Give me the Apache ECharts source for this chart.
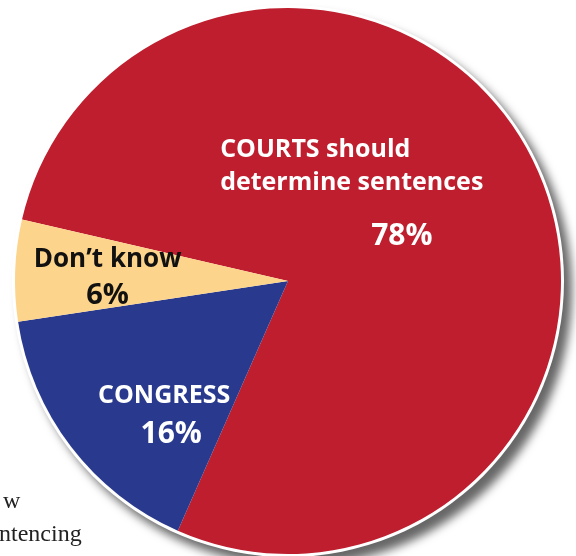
<!DOCTYPE html>
<html>
<head>
<meta charset="utf-8">
<script src="https://cdn.jsdelivr.net/npm/echarts@6/dist/echarts.min.js"></script>
<style>
  html, body { margin: 0; padding: 0; background: #fff; }
  #chart { width: 576px; height: 556px; }
</style>
</head>
<body>
<div id="chart"></div>
<script>
// who should determine sentences
const categories = ['COURTS should determine sentences', 'CONGRESS', 'Don\u2019t know'];
const shares = [78, 16, 6];
const sliceColors = ['#be1e2d', '#293a8e', '#fdd48b'];

// label nudges from the default inside position
const labelShift = [
  { dx: -61, dy: -15 },
  { dx: -13, dy: 52 },
  { dx: -41, dy: 2 }
];

const chart = echarts.init(document.getElementById('chart'));

const center = [288, 281];
const radius = 273;
const font = '"Open Sans", "Noto Sans", sans-serif';

const fmt = (p) => {
  if (p.dataIndex === 0) {
    return '{a|COURTS should}\n{a|determine sentences}\n{p|' + p.value + '%}';
  }
  if (p.dataIndex === 1) {
    return '{a|CONGRESS}\n{q|' + p.value + '%}';
  }
  return '{d|Don\u2019t know}\n{e|' + p.value + '%}';
};

const option = {
  backgroundColor: '#fff',
  animation: false,
  graphic: [
    {
      type: 'text', left: 3, top: 490,
      style: { text: 'w', font: '24px "Liberation Serif", serif', fill: '#222' }
    },
    {
      type: 'text', left: -1, top: 523,
      style: { text: 'ntencing', font: '24px "Liberation Serif", serif', fill: '#222' }
    }
  ],
  series: [
    {
      // white rim + drop shadow behind the pie
      type: 'pie',
      center: center,
      radius: radius + 3,
      silent: true,
      label: { show: false },
      labelLine: { show: false },
      itemStyle: {
        color: '#fff',
        shadowBlur: 10,
        shadowOffsetX: 8,
        shadowOffsetY: 9,
        shadowColor: 'rgba(0,0,0,0.6)'
      },
      data: [1],
      z: 1
    },
    {
      type: 'pie',
      center: center,
      radius: radius,
      startAngle: 167,
      clockwise: true,
      avoidLabelOverlap: false,
      z: 2,
      data: categories.map((c, i) => ({
        name: c,
        value: shares[i],
        itemStyle: { color: sliceColors[i] }
      })),
      itemStyle: { borderWidth: 0 },
      labelLine: { show: false },
      label: {
        show: true,
        position: 'inside',
        formatter: fmt,
        fontFamily: font,
        rich: {
          a: { color: '#fff', fontSize: 25, fontWeight: 'bold', lineHeight: 33, align: 'left', fontFamily: font },
          p: { color: '#fff', fontSize: 30, fontWeight: 'bold', lineHeight: 75, align: 'left', padding: [0, 0, 0, 151], fontFamily: font },
          q: { color: '#fff', fontSize: 30, fontWeight: 'bold', lineHeight: 44, align: 'center', padding: [0, 0, 0, 14], fontFamily: font },
          d: { color: '#111', fontSize: 26, fontWeight: 'bold', lineHeight: 37, align: 'center', fontFamily: font },
          e: { color: '#111', fontSize: 29, fontWeight: 'bold', lineHeight: 37, align: 'center', fontFamily: font }
        }
      },
      labelLayout: (params) => labelShift[params.dataIndex]
    }
  ]
};

chart.setOption(option);
</script>
</body>
</html>
